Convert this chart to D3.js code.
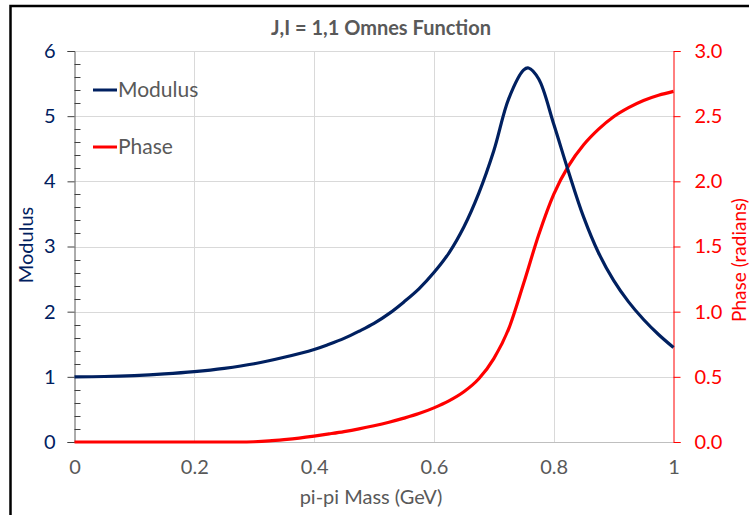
<!DOCTYPE html>
<html>
<head>
<meta charset="utf-8">
<script src="https://cdn.jsdelivr.net/npm/d3@7"></script>
<style>
  html, body { margin: 0; padding: 0; background: #fff; }
  svg { display: block; font-family: Lato, "Open Sans", sans-serif; }
</style>
</head>
<body>
<svg id="chart" width="749" height="515"></svg>
<script>
// Omnes function for J,I = 1,1 versus pi-pi invariant mass
const massModulus = [0, 0.05, 0.1, 0.15, 0.2, 0.25, 0.3, 0.35, 0.4, 0.425, 0.45, 0.475, 0.5, 0.525, 0.55, 0.575, 0.6, 0.625, 0.65, 0.675, 0.7, 0.725, 0.75, 0.758, 0.775, 0.8, 0.825, 0.85, 0.875, 0.9, 0.925, 0.95, 0.975, 1.0];
const modulus     = [1.00, 1.005, 1.02, 1.045, 1.08, 1.13, 1.20, 1.30, 1.42, 1.50, 1.59, 1.70, 1.82, 1.97, 2.15, 2.35, 2.60, 2.90, 3.30, 3.82, 4.47, 5.27, 5.71, 5.74, 5.57, 4.88, 4.14, 3.45, 2.90, 2.48, 2.15, 1.88, 1.65, 1.45];

const massPhase = [0, 0.1, 0.2, 0.275, 0.3, 0.325, 0.35, 0.375, 0.4, 0.425, 0.45, 0.475, 0.5, 0.525, 0.55, 0.575, 0.6, 0.625, 0.65, 0.675, 0.7, 0.725, 0.75, 0.775, 0.8, 0.825, 0.85, 0.875, 0.9, 0.925, 0.95, 0.975, 1.0];
const phase     = [0, 0, 0, 0, 0.002, 0.008, 0.018, 0.030, 0.045, 0.062, 0.080, 0.101, 0.125, 0.152, 0.183, 0.218, 0.262, 0.315, 0.385, 0.485, 0.640, 0.870, 1.220, 1.590, 1.900, 2.120, 2.280, 2.400, 2.495, 2.565, 2.620, 2.660, 2.690];

const xTicks = [0, 0.2, 0.4, 0.6, 0.8, 1];
const xTickLabels = ["0", "0.2", "0.4", "0.6", "0.8", "1"];
const leftTicks = [0, 1, 2, 3, 4, 5, 6];
const rightTicks = [0, 0.5, 1.0, 1.5, 2.0, 2.5, 3.0];
const seriesNames = ["Modulus", "Phase"];

const navy = "#002060";
const red = "#FF0000";
const grey = "#595959";

const svg = d3.select("#chart");
const plot = { left: 74.5, right: 673.5, top: 51, bottom: 442 };

const x = d3.scaleLinear().domain([0, 1]).range([plot.left, plot.right]);
const yL = d3.scaleLinear().domain([0, 6]).range([plot.bottom, plot.top]);
const yR = d3.scaleLinear().domain([0, 3]).range([plot.bottom, plot.top]);

// outer frame
svg.append("rect").attr("x", 10.5).attr("y", 6).attr("width", 760).attr("height", 540)
  .attr("fill", "none").attr("stroke", "#000").attr("stroke-width", 2.5);

// gridlines
const grid = svg.append("g").attr("stroke", "#D9D9D9").attr("stroke-width", 1);
grid.selectAll("line.h").data(leftTicks.slice(1)).join("line")
  .attr("x1", plot.left).attr("x2", plot.right)
  .attr("y1", d => Math.round(yL(d)) + 0.5).attr("y2", d => Math.round(yL(d)) + 0.5);
grid.selectAll("line.v").data(xTicks.slice(1, -1)).join("line")
  .attr("x1", d => Math.round(x(d)) + 0.5).attr("x2", d => Math.round(x(d)) + 0.5)
  .attr("y1", plot.top).attr("y2", plot.bottom);

// x axis (baseline + labels)
svg.append("line").attr("x1", plot.left).attr("x2", plot.right)
  .attr("y1", plot.bottom + 0.5).attr("y2", plot.bottom + 0.5)
  .attr("stroke", "#BFBFBF").attr("stroke-width", 1);
const xAxis = d3.axisBottom(x).tickValues(xTicks)
  .tickFormat((d, i) => xTickLabels[i]).tickSize(0).tickPadding(18);
const gx = svg.append("g").attr("transform", `translate(0,${plot.bottom})`).call(xAxis);
gx.select(".domain").remove();
gx.selectAll("text").attr("fill", grey).style("font-size", "20px").style("font-family", "Lato, sans-serif");

// left axis: major ticks outside, minor ticks inside
const gl = svg.append("g").attr("transform", `translate(${plot.left},0)`)
  .call(d3.axisLeft(yL).tickValues(leftTicks).tickSize(7).tickPadding(12).tickFormat(d3.format("d")));
gl.select(".domain").attr("stroke", "#595959");
gl.selectAll(".tick line").attr("stroke", "#404040");
gl.selectAll("text").attr("fill", navy).style("font-size", "20px").style("font-family", "Lato, sans-serif");
const minor = d3.range(0, 6.001, 0.2).filter(v => Math.abs(v - Math.round(v)) > 1e-6);
svg.append("g").selectAll("line").data(minor).join("line")
  .attr("x1", plot.left).attr("x2", plot.left + 6)
  .attr("y1", d => Math.round(yL(d)) + 0.5).attr("y2", d => Math.round(yL(d)) + 0.5)
  .attr("stroke", "#404040").attr("stroke-width", 1);

// right axis
const gr = svg.append("g").attr("transform", `translate(${plot.right},0)`)
  .call(d3.axisRight(yR).tickValues(rightTicks).tickSize(7).tickPadding(14).tickFormat(d3.format(".1f")));
gr.select(".domain").attr("stroke", red);
gr.selectAll(".tick line").attr("stroke", red);
gr.selectAll("text").attr("fill", red).style("font-size", "20px").style("font-family", "Lato, sans-serif");

// series
const lineMod = d3.line().x((d, i) => x(massModulus[i])).y(d => yL(d)).curve(d3.curveCatmullRom.alpha(0.5));
const linePh = d3.line().x((d, i) => x(massPhase[i])).y(d => yR(d)).curve(d3.curveMonotoneX);
svg.append("path").datum(phase).attr("d", linePh)
  .attr("fill", "none").attr("stroke", red).attr("stroke-width", 3.2).attr("stroke-linejoin", "round");
svg.append("path").datum(modulus).attr("d", lineMod)
  .attr("fill", "none").attr("stroke", navy).attr("stroke-width", 3.2).attr("stroke-linejoin", "round");

// title
svg.append("text").attr("x", 381).attr("y", 35).attr("text-anchor", "middle")
  .attr("fill", grey).style("font-size", "20px").style("font-weight", "bold")
  .text("J,I = 1,1 Omnes Function");

// axis titles
svg.append("text").attr("x", 371).attr("y", 504).attr("text-anchor", "middle")
  .attr("fill", grey).style("font-size", "20px").text("pi-pi Mass (GeV)");
svg.append("text").attr("transform", "translate(33,245) rotate(-90)").attr("text-anchor", "middle")
  .attr("fill", navy).style("font-size", "20px").text("Modulus");
svg.append("text").attr("transform", "translate(746,260) rotate(-90)").attr("text-anchor", "middle")
  .attr("fill", red).style("font-size", "19px").text("Phase (radians)");

// legend
const legend = svg.append("g");
const legendY = [90, 147];
const legendColor = [navy, red];
seriesNames.forEach((name, i) => {
  legend.append("line").attr("x1", 93).attr("x2", 117).attr("y1", legendY[i]).attr("y2", legendY[i])
    .attr("stroke", legendColor[i]).attr("stroke-width", 3);
  legend.append("text").attr("x", 118).attr("y", legendY[i] + 7)
    .attr("fill", grey).style("font-size", "21px").text(name);
});
</script>
</body>
</html>
